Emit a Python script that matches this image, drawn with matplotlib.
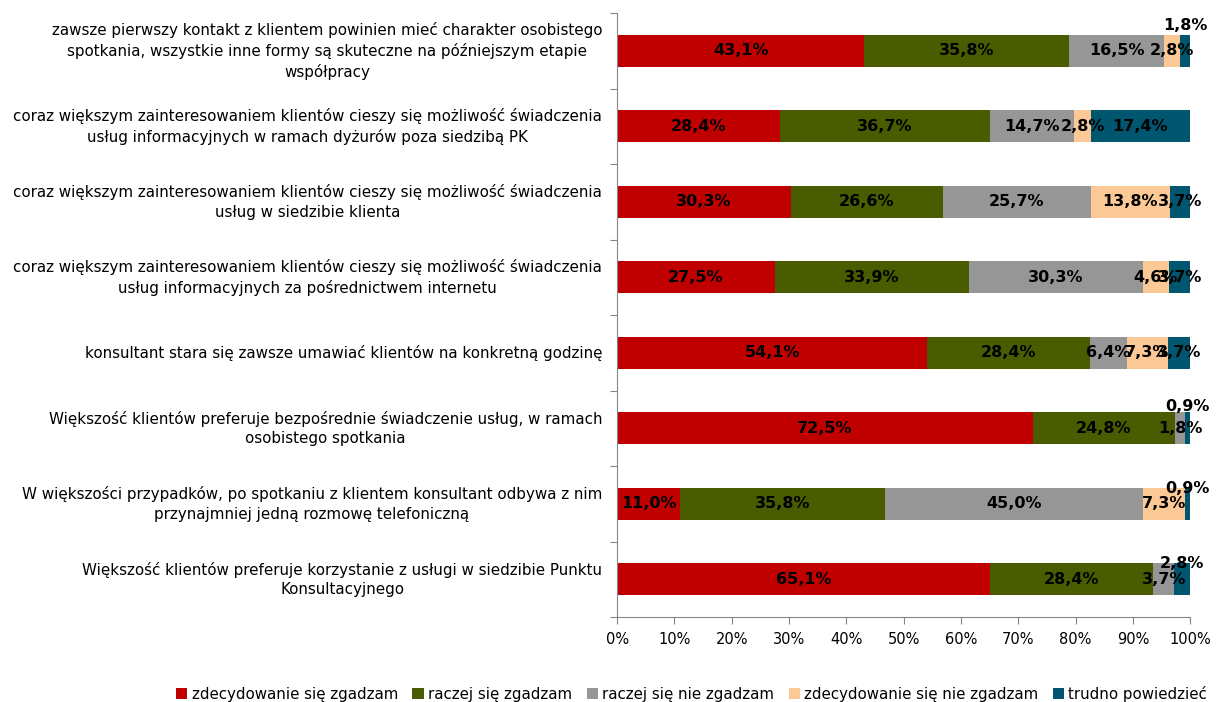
import numpy as np
import matplotlib
matplotlib.use("Agg")
import matplotlib.pyplot as plt
from matplotlib.ticker import FixedLocator, PercentFormatter

# Statements (top to bottom) and answer shares in percent
statements = [
    "zawsze pierwszy kontakt z klientem powinien mieć charakter osobistego\nspotkania, wszystkie inne formy są skuteczne na późniejszym etapie\nwspółpracy",
    "coraz większym zainteresowaniem klientów cieszy się możliwość świadczenia\nusług informacyjnych w ramach dyżurów poza siedzibą PK",
    "coraz większym zainteresowaniem klientów cieszy się możliwość świadczenia\nusług w siedzibie klienta",
    "coraz większym zainteresowaniem klientów cieszy się możliwość świadczenia\nusług informacyjnych za pośrednictwem internetu",
    "konsultant stara się zawsze umawiać klientów na konkretną godzinę",
    "Większość klientów preferuje bezpośrednie świadczenie usług, w ramach\nosobistego spotkania",
    "W większości przypadków, po spotkaniu z klientem konsultant odbywa z nim\nprzynajmniej jedną rozmowę telefoniczną",
    "Większość klientów preferuje korzystanie z usługi w siedzibie Punktu\nKonsultacyjnego",
]

answers = [
    "zdecydowanie się zgadzam",
    "raczej się zgadzam",
    "raczej się nie zgadzam",
    "zdecydowanie się nie zgadzam",
    "trudno powiedzieć",
]

strongly_agree = [43.1, 28.4, 30.3, 27.5, 54.1, 72.5, 11.0, 65.1]
rather_agree = [35.8, 36.7, 26.6, 33.9, 28.4, 24.8, 35.8, 28.4]
rather_disagree = [16.5, 14.7, 25.7, 30.3, 6.4, 1.8, 45.0, 3.7]
strongly_disagree = [2.8, 2.8, 13.8, 4.6, 7.3, 0.0, 7.3, 0.0]
hard_to_say = [1.8, 17.4, 3.7, 3.7, 3.7, 0.9, 0.9, 2.8]

series = [strongly_agree, rather_agree, rather_disagree, strongly_disagree, hard_to_say]
colors = ["#C00000", "#4A5C00", "#969696", "#FCC896", "#00566F"]

# thin segments whose labels sit above the bar: (row, series) -> vertical shift
raised = {(0, 4): -0.34, (5, 4): -0.29, (6, 4): -0.2, (7, 4): -0.21}

fig = plt.figure(figsize=(12.22, 7.02), dpi=100)
ax = fig.add_axes([0.505, 0.121, 0.469, 0.8604])

y = np.arange(len(statements))
left = np.zeros(len(statements))
for k, (vals, color, name) in enumerate(zip(series, colors, answers)):
    vals = np.array(vals)
    ax.barh(y, vals, left=left, height=0.42, color=color, label=name)
    for i, v in enumerate(vals):
        if v <= 0:
            continue
        dy = raised.get((i, k), 0.0)
        ax.text(left[i] + v / 2, y[i] + dy, f"{v:.1f}%".replace(".", ","),
                ha="center", va="center", fontsize=11.5, fontweight="bold",
                color="black")
    left += vals

ax.set_xlim(0, 100)
ax.set_ylim(len(statements) - 0.5, -0.5)
ax.xaxis.set_major_locator(FixedLocator(np.arange(0, 101, 10)))
ax.xaxis.set_major_formatter(PercentFormatter(decimals=0))
ax.tick_params(axis="x", labelsize=10.5, length=5, color="#868686", pad=6)

# category ticks between rows, labels centred on each row
ax.set_yticks(np.arange(-0.5, len(statements)))
ax.set_yticklabels([])
ax.tick_params(axis="y", length=5, color="#868686")
for i, s in enumerate(statements):
    ax.text(-2.6, y[i], s, ha="right", va="center", multialignment="center",
            fontsize=10.9, linespacing=1.38)

for side in ("top", "right"):
    ax.spines[side].set_visible(False)
for side in ("left", "bottom"):
    ax.spines[side].set_color("#868686")

fig.legend(loc="lower left", bbox_to_anchor=(170 / 1222, -0.008), ncol=5,
           frameon=False, fontsize=10.8, handlelength=0.75, handleheight=0.75,
           handletextpad=0.3, columnspacing=0.95, borderaxespad=0)

fig.savefig("out.png", dpi=100)
